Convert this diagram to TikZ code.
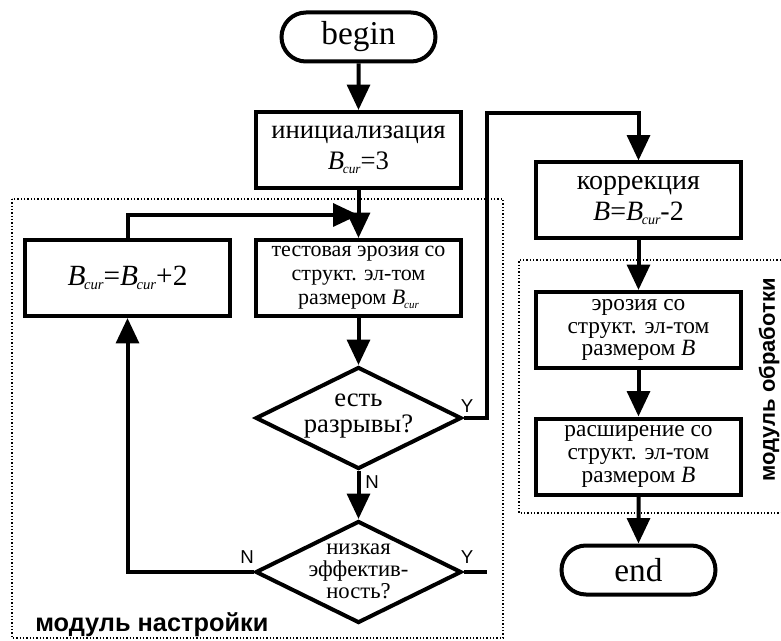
\documentclass[tikz,border=0pt]{standalone}
\usepackage{fontspec}
\usepackage{graphicx}
\setmainfont{Liberation Serif}
\newfontfamily\lsans{Liberation Sans}
\usetikzlibrary{shapes.geometric,shapes.misc,arrows.meta}
\newcommand\Bcur{\textit{B}\kern-0.05em\raisebox{-0.35ex}{\scalebox{0.5}{\textit{cur}}}}
\def\px{0.75pt}
\tikzset{
 box/.style={draw, line width=3pt, minimum width=205*\px, minimum height=76*\px, align=center, inner sep=0pt},
 term/.style={draw, rounded rectangle, line width=3pt, minimum width=154*\px, minimum height=49*\px, inner sep=0pt, font=\fontsize{25}{28}\selectfont},
 dia/.style={draw, diamond, line width=3pt, minimum width=206*\px, minimum height=102*\px, inner sep=0pt},
 dtext/.style={align=center, inner sep=0pt},
 conn/.style={line width=3pt},
 arr/.style={conn, -{Triangle[length=19pt,width=17pt]}},
 yn/.style={font=\lsans\fontsize{14}{16}\selectfont, inner sep=0pt},
 module/.style={line width=0.8pt, dash pattern=on 0.9pt off 1.6pt},
 mlabel/.style={font=\lsans\bfseries\fontsize{19}{22}\selectfont, inner sep=0pt}
}
\begin{document}
\begin{tikzpicture}[x=0.75pt, y=-0.75pt]
\useasboundingbox (0,0) rectangle (781,641);
% modules
\draw[module] (12,199) rectangle (503,638);
\draw[module] (781,260) -- (519,260) -- (519,513) -- (781,513);
\node[mlabel, anchor=base west] (ml1) at (35,631) {модуль настройки};
\node[mlabel, rotate=90, font=\lsans\bfseries\fontsize{16.5}{20}\selectfont] (ml2) at (769,380) {модуль обработки};
% nodes
\node[term] (begin) at (358.5,37) {begin};
\node[box, font=\fontsize{20}{23}\selectfont] (init) at (358.5,150) {инициализация\\\Bcur=3};
\node[box, font=\fontsize{22}{25}\selectfont] (bc) at (127.5,278) {\Bcur=\Bcur+2};
\node[box, font=\fontsize{16.5}{18}\selectfont] (test) at (358.5,278) {тестовая эрозия со\\структ. эл-том\\размером \Bcur};
\node[dia] (d1) at (358.5,418) {};
\node[dtext, font=\fontsize{20}{19}\selectfont] (d1t) at (358.5,416) {есть\\разрывы?};
\node[dia] (d2) at (358.5,572) {};
\node[dtext, font=\fontsize{17}{16.5}\selectfont] (d2t) at (358.5,571) {низкая\\эффектив-\\ность?};
\node[box, font=\fontsize{21}{23}\selectfont] (corr) at (638.5,200.5) {коррекция\\\textit{B}=\Bcur-2};
\node[box, font=\fontsize{17.5}{17}\selectfont] (eros) at (638.5,330) {эрозия со\\структ. эл-том\\размером \textit{B}};
\node[box, font=\fontsize{17.5}{17}\selectfont] (dil) at (638.5,456.5) {расширение со\\структ. эл-том\\размером \textit{B}};
\node[term] (end) at (638.5,570) {end};
% connectors
\coordinate (j) at (358.5,215);
\coordinate (r1) at (487,113);
\draw[arr] (begin) -- (init);
\draw[conn] (init) -- (j);
\draw[arr] (j) -- (test);
\draw[arr] (bc.north) |- (j);
\draw[arr] (test) -- (d1.north);
\draw[arr] (d1.south) -- (d2.north);
\draw[arr] (d1.east) -| (r1) -| (corr.north);
\draw[conn] (d2.east) -- (d2.east -| r1);
\draw[arr] (d2.west) -| (bc.south);
\draw[arr] (corr) -- (eros);
\draw[arr] (eros) -- (dil);
\draw[arr] (dil) -- (end);
% labels
\node[yn] (y1) at (467,406) {Y};
\node[yn] (n1) at (372,482) {N};
\node[yn] (n2) at (247,557) {N};
\node[yn] (y2) at (467,557) {Y};
\end{tikzpicture}
\end{document}
